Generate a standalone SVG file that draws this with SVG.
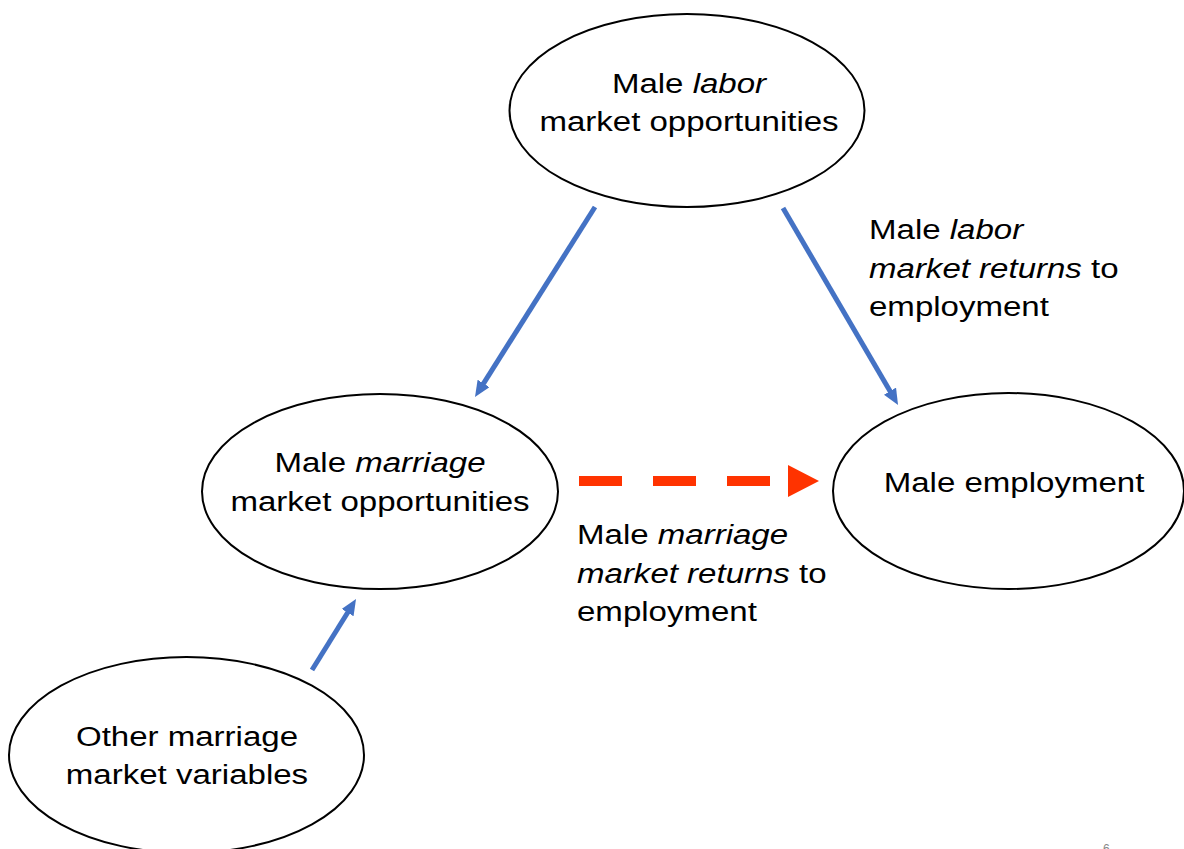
<svg xmlns="http://www.w3.org/2000/svg" width="1184" height="849" viewBox="0 0 1184 849">
<style>
  .node { fill: #ffffff; stroke: #000000; stroke-width: 2; }
  .txt { font-family: "Liberation Sans", Arial, sans-serif; font-size: 28px; fill: #000000; }
  .mid { text-anchor: middle; }
  .it { font-style: italic; }
  .blue { stroke: #4472C4; stroke-width: 5; fill: none; marker-end: url(#blueHead); }
  .red { stroke: #FF3300; stroke-width: 10; fill: none; stroke-dasharray: 43 31; marker-end: url(#redHead); }
</style>
<defs>
  <marker id="blueHead" markerUnits="userSpaceOnUse" markerWidth="16" markerHeight="14" refX="4" refY="7" orient="auto">
    <path d="M0,0 L16,7 L0,14 z" fill="#4472C4"/>
  </marker>
  <marker id="redHead" markerUnits="userSpaceOnUse" markerWidth="50" markerHeight="32" refX="0" refY="16" orient="auto">
    <path d="M18,0 L49,16 L18,32 z" fill="#FF3300"/>
  </marker>
</defs>
<rect width="1184" height="849" fill="#ffffff"/>

<g id="connectors">
  <line class="blue" x1="595" y1="207" x2="481.4" y2="386.8"/>
  <line class="blue" x1="783" y1="208" x2="892" y2="394.6"/>
  <line class="blue" x1="312" y1="670" x2="349.7" y2="609.2"/>
  <line class="red" x1="579" y1="481" x2="770" y2="481"/>
</g>

<g id="node-labor">
  <ellipse class="node" cx="687" cy="110.5" rx="177.5" ry="96.5"/>
  <text class="txt mid" transform="translate(689,0) scale(1.18,1)" x="0" y="93">Male <tspan class="it">labor</tspan></text>
  <text class="txt mid" transform="translate(689,0) scale(1.18,1)" x="0" y="131">market opportunities</text>
</g>

<g id="node-marriage">
  <ellipse class="node" cx="380" cy="491.5" rx="178" ry="97.5"/>
  <text class="txt mid" transform="translate(380,0) scale(1.18,1)" x="0" y="472">Male <tspan class="it">marriage</tspan></text>
  <text class="txt mid" transform="translate(380,0) scale(1.18,1)" x="0" y="511">market opportunities</text>
</g>

<g id="node-employment">
  <ellipse class="node" cx="1008.5" cy="491" rx="175.5" ry="98"/>
  <text class="txt mid" transform="translate(1014,0) scale(1.18,1)" x="0" y="492">Male employment</text>
</g>

<g id="node-other">
  <ellipse class="node" cx="186.5" cy="755" rx="177.5" ry="98"/>
  <text class="txt mid" transform="translate(187,0) scale(1.18,1)" x="0" y="746">Other marriage</text>
  <text class="txt mid" transform="translate(187,0) scale(1.18,1)" x="0" y="784">market variables</text>
</g>

<g id="label-labor-returns">
  <text class="txt" transform="translate(869,0) scale(1.18,1)" x="0" y="239">Male <tspan class="it">labor</tspan></text>
  <text class="txt" transform="translate(869,0) scale(1.18,1)" x="0" y="278"><tspan class="it">market returns</tspan> to</text>
  <text class="txt" transform="translate(869,0) scale(1.18,1)" x="0" y="316">employment</text>
</g>

<g id="label-marriage-returns">
  <text class="txt" transform="translate(577,0) scale(1.18,1)" x="0" y="544">Male <tspan class="it">marriage</tspan></text>
  <text class="txt" transform="translate(577,0) scale(1.18,1)" x="0" y="583"><tspan class="it">market returns</tspan> to</text>
  <text class="txt" transform="translate(577,0) scale(1.18,1)" x="0" y="621">employment</text>
</g>

<text x="1103" y="853" font-family="Liberation Sans, Arial, sans-serif" font-size="12" fill="#888888">6</text>
</svg>
